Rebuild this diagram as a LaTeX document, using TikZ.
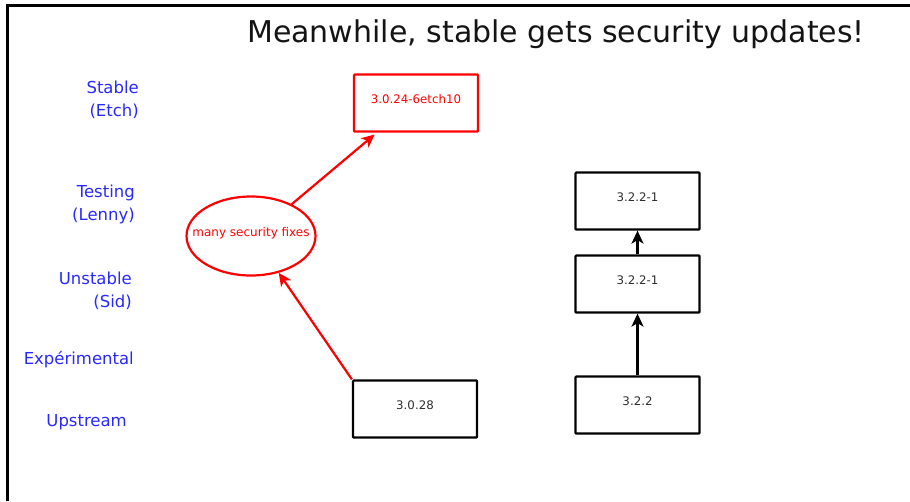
\documentclass[tikz,border=0pt]{standalone}
\usepackage{fontspec}
\setmainfont{DejaVu Sans}
\usetikzlibrary{shapes.geometric,arrows.meta}
\definecolor{lblue}{RGB}{40,40,255}
\definecolor{boxtext}{RGB}{45,45,45}
\begin{document}
\begin{tikzpicture}[x=1pt,y=-1pt,
  ver/.style={draw=black, line width=2.2pt, rounded corners=0.8pt, minimum width=124pt, minimum height=57pt, inner sep=0pt, text height=8pt, text depth=8pt, font=\fontsize{11.8}{13}\selectfont, text=boxtext},
  redver/.style={draw=red, text=red},
  lbl/.style={text=lblue, font=\fontsize{16.5}{23}\selectfont, inner sep=0pt, align=right},
  arr/.style={line width=2.2pt, -{Stealth[length=13pt,width=12pt,inset=3.5pt]}},
]
\useasboundingbox (0,0) rectangle (910,501);
\draw[line width=3pt] (7,501) -- (7,5) -- (910,5);

\node[font=\fontsize{30}{36}\selectfont, anchor=base, inner sep=0pt, text={rgb,255:red,20;green,20;blue,20}] (title) at (556,42.7) {Meanwhile, stable gets security updates!};

\node[lbl, anchor=east] (stable) at (139,100) {Stable\\(Etch)};
\node[lbl, anchor=east] (testing) at (135,204.5) {Testing\\(Lenny)};
\node[lbl, anchor=east] (unstable) at (132,291) {Unstable\\(Sid)};
\node[lbl, anchor=base east] (exp) at (134,364.3) {Expérimental};
\node[lbl, anchor=base east] (upstream) at (127,426) {Upstream};

\node[ver, redver] (etch) at (416,103) {3.0.24-6etch10};
\node[ver] (up) at (415,409) {3.0.28};
\node[ver] (t1) at (637.5,201) {3.2.2-1};
\node[ver] (u1) at (637.5,284) {3.2.2-1};
\node[ver] (s) at (637.5,405) {3.2.2};

\node[ellipse, draw=red, line width=2.2pt, minimum width=129pt, minimum height=79pt, inner sep=0pt] (fix) at (251,236) {};
\node[text=red, font=\fontsize{12}{13}\selectfont, inner sep=0pt, text height=8pt, text depth=8pt] (fixlbl) at (fix.center) {many security fixes};

\draw[arr, red] (up.north west) -- (fix.-53);
\draw[arr, red, shorten >=3pt] (fix.38) -- ([xshift=24pt]etch.south west);
\draw[arr] (s.north) -- (u1.south);
\draw[arr] (u1.north) -- (t1.south);
\end{tikzpicture}
\end{document}
